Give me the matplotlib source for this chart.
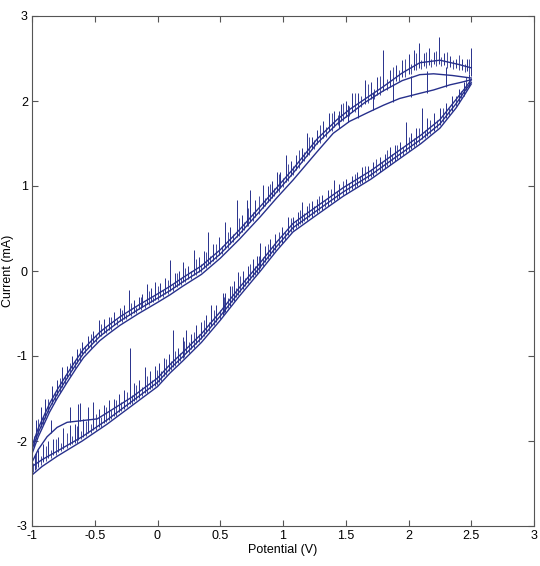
import matplotlib
matplotlib.use("Agg")
import matplotlib.pyplot as plt

plt.rcParams['font.family'] = ['Liberation Sans', 'DejaVu Sans']

# anodic sweep, outer / middle / inner traces (V, mA)
up_outer_v = [-1.00, -0.95, -0.86, -0.80, -0.72, -0.65, -0.59, -0.52, -0.46, -0.40, -0.30, -0.15, 0.00,
              0.10, 0.20, 0.35, 0.50, 0.65, 0.82, 0.95, 1.08, 1.27, 1.43, 1.53, 1.65, 1.80, 1.95, 2.09,
              2.25, 2.40, 2.50]
up_outer_i = [-2.06, -1.85, -1.56, -1.40, -1.21, -1.05, -0.92, -0.81, -0.72, -0.65, -0.54, -0.40, -0.27,
              -0.18, -0.08, 0.06, 0.25, 0.48, 0.76, 0.98, 1.20, 1.55, 1.78, 1.90, 2.02, 2.17, 2.33, 2.45,
              2.48, 2.43, 2.39]
up_mid_v = [-1.00, -0.95, -0.86, -0.80, -0.72, -0.65, -0.59, -0.52, -0.46, -0.40, -0.30, -0.15, 0.00,
            0.10, 0.20, 0.35, 0.50, 0.65, 0.82, 0.95, 1.08, 1.27, 1.43, 1.65, 1.80, 1.95, 2.09, 2.20,
            2.35, 2.50]
up_mid_i = [-2.10, -1.90, -1.61, -1.45, -1.26, -1.10, -0.97, -0.86, -0.77, -0.70, -0.59, -0.45, -0.32,
            -0.23, -0.13, 0.01, 0.20, 0.43, 0.71, 0.93, 1.15, 1.50, 1.73, 1.98, 2.12, 2.24, 2.31, 2.32,
            2.30, 2.27]
up_inner_v = [-1.00, -0.95, -0.86, -0.80, -0.72, -0.65, -0.59, -0.52, -0.46, -0.40, -0.30, -0.15, 0.00,
              0.10, 0.20, 0.35, 0.50, 0.65, 0.82, 0.95, 1.08, 1.27, 1.40, 1.53, 1.67, 1.80, 1.93, 2.09,
              2.20, 2.33, 2.42, 2.50]
up_inner_i = [-2.15, -1.95, -1.66, -1.50, -1.31, -1.15, -1.02, -0.91, -0.82, -0.75, -0.64, -0.50, -0.37,
              -0.28, -0.18, -0.04, 0.15, 0.37, 0.64, 0.86, 1.07, 1.40, 1.62, 1.76, 1.86, 1.95, 2.03, 2.09,
              2.13, 2.19, 2.22, 2.25]

# cathodic sweep: bottom edge, middle, and upper trace with the hook near -0.6 V
low_bot_v = [2.50, 2.45, 2.38, 2.25, 2.10, 1.88, 1.70, 1.48, 1.25, 1.08, 0.95, 0.82, 0.65, 0.50,
             0.35, 0.20, 0.10, 0.00, -0.20, -0.40, -0.60, -0.80, -0.92, -1.00]
low_bot_i = [2.20, 2.08, 1.92, 1.68, 1.50, 1.27, 1.08, 0.88, 0.64, 0.46, 0.24, 0.00, -0.30, -0.58,
             -0.84, -1.06, -1.20, -1.36, -1.58, -1.80, -2.00, -2.18, -2.30, -2.40]
low_mid_v = [2.50, 2.45, 2.38, 2.25, 2.10, 1.88, 1.70, 1.48, 1.25, 1.08, 0.95, 0.82, 0.65, 0.50,
             0.35, 0.20, 0.10, 0.00, -0.20, -0.40, -0.60, -0.80, -0.92, -1.00]
low_mid_i = [2.22, 2.12, 1.97, 1.73, 1.55, 1.32, 1.13, 0.93, 0.69, 0.51, 0.29, 0.05, -0.25, -0.53,
             -0.79, -1.01, -1.15, -1.31, -1.53, -1.75, -1.95, -2.12, -2.22, -2.30]
low_top_v = [2.50, 2.45, 2.38, 2.25, 2.10, 1.88, 1.70, 1.48, 1.25, 1.08, 0.95, 0.82, 0.65, 0.50,
             0.35, 0.20, 0.10, 0.00, -0.20, -0.35, -0.48, -0.60, -0.72, -0.80, -0.88, -0.95, -1.00]
low_top_i = [2.25, 2.15, 2.02, 1.78, 1.60, 1.37, 1.18, 0.98, 0.74, 0.56, 0.34, 0.10, -0.20, -0.48,
             -0.74, -0.96, -1.10, -1.26, -1.48, -1.62, -1.74, -1.76, -1.78, -1.84, -1.95, -2.10, -2.25]

# large noise spikes: position, foot, tip
spk_up_v = [-0.97, -0.93, -0.90, -0.84, -0.80, -0.76, -0.72, -0.68, -0.64, -0.60, -0.55, -0.51, -0.47,
            -0.43, -0.39, -0.35, -0.30, -0.27, -0.23, -0.19, -0.15, -0.12, -0.08, -0.05, -0.02, 0.02,
            0.06, 0.10, 0.14, 0.17, 0.20, 0.24, 0.29, 0.33, 0.37, 0.40, 0.44, 0.49, 0.54, 0.58, 0.63,
            0.67, 0.71, 0.74, 0.78, 0.84, 0.88, 0.91, 0.95, 0.98, 1.02, 1.06, 1.10, 1.15, 1.19, 1.23,
            1.27, 1.32, 1.37, 1.41, 1.46, 1.50, 1.55, 1.60, 1.65, 1.70, 1.75, 1.80, 1.85, 1.90, 1.95,
            2.00, 2.04, 2.08, 2.12, 2.16, 2.20, 2.24, 2.28, 2.33, 2.38, 2.43, 2.47, 2.50,
            1.60, 1.72, 1.88, 2.02, 2.15, 2.30, 1.45, 1.52]
spk_up_lo = [-1.98, -1.83, -1.73, -1.56, -1.46, -1.36, -1.26, -1.17, -1.08, -0.99, -0.91, -0.84, -0.77,
             -0.73, -0.69, -0.64, -0.59, -0.56, -0.52, -0.49, -0.45, -0.42, -0.39, -0.36, -0.34, -0.30,
             -0.27, -0.23, -0.19, -0.16, -0.13, -0.09, -0.05, -0.01, 0.03, 0.07, 0.12, 0.19, 0.26, 0.32,
             0.40, 0.46, 0.53, 0.58, 0.64, 0.74, 0.81, 0.86, 0.93, 0.98, 1.05, 1.12, 1.19, 1.28, 1.35,
             1.43, 1.50, 1.57, 1.65, 1.70, 1.77, 1.81, 1.87, 1.92, 1.97, 2.02, 2.07, 2.12, 2.17, 2.23,
             2.28, 2.32, 2.36, 2.39, 2.41, 2.42, 2.43, 2.43, 2.42, 2.40, 2.39, 2.37, 2.35, 2.30,
             1.80, 1.89, 1.99, 2.05, 2.10, 2.16, 1.68, 1.75]
spk_up_hi = [-1.75, -1.60, -1.50, -1.35, -1.28, -1.13, -1.12, -1.00, -0.92, -0.84, -0.76, -0.70, -0.58,
             -0.56, -0.54, -0.48, -0.44, -0.40, -0.22, -0.34, -0.30, -0.27, -0.15, -0.20, -0.13, -0.14,
             -0.08, 0.13, -0.02, 0.00, 0.11, 0.06, 0.25, 0.16, 0.24, 0.46, 0.32, 0.40, 0.58, 0.52,
             0.84, 0.66, 0.84, 0.95, 0.84, 1.01, 1.00, 1.06, 1.17, 1.16, 1.36, 1.30, 1.36, 1.45, 1.62,
             1.58, 1.66, 1.76, 1.86, 1.88, 1.97, 2.00, 2.10, 2.10, 2.25, 2.22, 2.28, 2.60, 2.36, 2.42,
             2.48, 2.55, 2.60, 2.68, 2.56, 2.62, 2.58, 2.75, 2.56, 2.53, 2.50, 2.49, 2.50, 2.62,
             2.05, 2.10, 2.20, 2.30, 2.35, 2.40, 1.88, 1.95]

spk_low_v = [-0.98, -0.95, -0.91, -0.87, -0.83, -0.79, -0.75, -0.70, -0.66, -0.63, -0.59, -0.55, -0.51,
             -0.47, -0.43, -0.39, -0.35, -0.31, -0.27, -0.22, -0.19, -0.15, -0.10, -0.06, -0.02, 0.01,
             0.05, 0.09, 0.125, 0.16, 0.20, 0.23, 0.27, 0.31, 0.35, 0.39, 0.43, 0.47, 0.52, 0.54, 0.58,
             0.61, 0.64, 0.68, 0.72, 0.76, 0.79, 0.82, 0.86, 0.90, 0.94, 0.99, 1.04, 1.08, 1.12, 1.15,
             1.19, 1.23, 1.27, 1.31, 1.36, 1.41, 1.45, 1.50, 1.55, 1.59, 1.63, 1.68, 1.72, 1.77, 1.81,
             1.85, 1.89, 1.93, 1.98, 2.02, 2.06, 2.11, 2.15, 2.20, 2.25, 2.30, 2.35, 2.40, 2.44, 2.48,
             -0.70, -0.62, -0.55, -0.85]
spk_low_lo = [-2.34, -2.30, -2.25, -2.20, -2.16, -2.13, -2.09, -2.05, -2.02, -1.99, -1.95, -1.91, -1.87,
              -1.83, -1.79, -1.75, -1.70, -1.66, -1.62, -1.56, -1.53, -1.49, -1.43, -1.39, -1.35, -1.31,
              -1.24, -1.18, -1.13, -1.08, -1.02, -0.97, -0.92, -0.86, -0.80, -0.73, -0.65, -0.60, -0.52,
              -0.48, -0.41, -0.35, -0.28, -0.21, -0.14, -0.07, -0.02, 0.04, 0.11, 0.18, 0.25, 0.33, 0.42,
              0.48, 0.53, 0.56, 0.60, 0.64, 0.68, 0.72, 0.77, 0.82, 0.86, 0.91, 0.96, 1.00, 1.03, 1.08,
              1.12, 1.17, 1.21, 1.25, 1.29, 1.34, 1.40, 1.44, 1.48, 1.55, 1.59, 1.65, 1.72, 1.80, 1.88,
              1.98, 2.06, 2.16,
              -1.78, -1.77, -1.76, -1.90]
spk_low_hi = [-2.15, -2.10, -2.04, -2.00, -1.98, -1.95, -1.85, -1.81, -1.80, -1.56, -1.74, -1.70, -1.54,
              -1.62, -1.58, -1.52, -1.50, -1.45, -1.40, -0.90, -1.32, -1.28, -1.13, -1.18, -1.12, -1.08,
              -1.02, -0.98, -0.69, -0.90, -0.78, -0.69, -0.74, -0.64, -0.60, -0.52, -0.40, -0.40, -0.26,
              -0.26, -0.18, -0.12, -0.01, 0.00, 0.06, 0.14, 0.18, 0.33, 0.30, 0.38, 0.44, 0.52, 0.64,
              0.64, 0.70, 0.81, 0.76, 0.82, 0.85, 0.90, 0.95, 1.07, 1.02, 1.08, 1.12, 1.16, 1.22, 1.24,
              1.28, 1.34, 1.38, 1.46, 1.48, 1.52, 1.75, 1.62, 1.68, 1.92, 1.80, 1.86, 1.92, 1.98, 2.06,
              2.14, 2.22, 2.32,
              -1.60, -1.55, -1.60, -1.75]

# small background spikes filling the bands
fz_up_v = [-0.985, -0.95, -0.915, -0.87, -0.82, -0.78, -0.74, -0.70, -0.66, -0.62, -0.575, -0.53, -0.49,
           -0.45, -0.41, -0.37, -0.325, -0.285, -0.25, -0.21, -0.17, -0.135, -0.10, -0.065, -0.035, 0.00,
           0.04, 0.08, 0.12, 0.155, 0.185, 0.22, 0.265, 0.31, 0.35, 0.385, 0.42, 0.465, 0.515, 0.56,
           0.605, 0.65, 0.69, 0.725, 0.76, 0.81, 0.86, 0.895, 0.93, 0.965, 1.00, 1.04, 1.08, 1.125,
           1.17, 1.21, 1.25, 1.295, 1.345, 1.39, 1.435, 1.48, 1.525, 1.575, 1.625, 1.675, 1.725, 1.775,
           1.825, 1.875, 1.925, 1.975, 2.02, 2.06, 2.10, 2.14, 2.18, 2.22, 2.26, 2.305, 2.355, 2.405,
           2.45, 2.485]
fz_up_lo = [-2.07, -1.92, -1.81, -1.66, -1.53, -1.43, -1.33, -1.24, -1.14, -1.06, -0.97, -0.90, -0.83,
            -0.77, -0.73, -0.69, -0.64, -0.60, -0.57, -0.53, -0.49, -0.46, -0.43, -0.40, -0.37, -0.34,
            -0.30, -0.27, -0.23, -0.19, -0.16, -0.13, -0.09, -0.05, -0.01, 0.03, 0.08, 0.14, 0.20, 0.27,
            0.34, 0.41, 0.48, 0.53, 0.59, 0.67, 0.76, 0.82, 0.88, 0.93, 0.99, 1.06, 1.13, 1.21,
            1.29, 1.36, 1.43, 1.51, 1.58, 1.65, 1.72, 1.77, 1.82, 1.87, 1.93, 1.98, 2.02, 2.07,
            2.13, 2.18, 2.23, 2.28, 2.32, 2.36, 2.38, 2.39, 2.40, 2.41, 2.41, 2.39, 2.38, 2.36,
            2.34, 2.32]
fz_up_hi = [-1.94, -1.74, -1.70, -1.50, -1.44, -1.26, -1.22, -1.08, -1.05, -0.90, -0.88, -0.74, -0.75,
            -0.62, -0.66, -0.54, -0.56, -0.46, -0.50, -0.38, -0.42, -0.30, -0.36, -0.24, -0.30, -0.18,
            -0.22, -0.10, -0.15, -0.02, -0.08, 0.04, 0.00, 0.14, 0.08, 0.22, 0.18, 0.32, 0.30, 0.46,
            0.44, 0.62, 0.58, 0.74, 0.70, 0.88, 0.86, 1.02, 0.98, 1.14, 1.10, 1.26, 1.24, 1.42,
            1.40, 1.58, 1.54, 1.72, 1.70, 1.86, 1.84, 1.98, 1.94, 2.10, 2.06, 2.20, 2.14, 2.30,
            2.26, 2.40, 2.36, 2.50, 2.44, 2.56, 2.48, 2.58, 2.50, 2.59, 2.52, 2.58, 2.48, 2.54,
            2.44, 2.50]

fz_low_v = [-0.995, -0.965, -0.93, -0.89, -0.85, -0.81, -0.77, -0.725, -0.68, -0.645, -0.61, -0.57, -0.53,
            -0.49, -0.45, -0.41, -0.37, -0.33, -0.29, -0.245, -0.205, -0.17, -0.125, -0.08, -0.04, -0.005,
            0.03, 0.07, 0.105, 0.14, 0.18, 0.215, 0.25, 0.29, 0.33, 0.37, 0.41, 0.45, 0.495, 0.53,
            0.56, 0.595, 0.625, 0.66, 0.70, 0.74, 0.775, 0.805, 0.84, 0.88, 0.92, 0.965, 1.015, 1.06,
            1.10, 1.135, 1.17, 1.21, 1.25, 1.29, 1.335, 1.385, 1.43, 1.475, 1.525, 1.57, 1.61, 1.655,
            1.70, 1.745, 1.79, 1.83, 1.87, 1.91, 1.955, 2.00, 2.04, 2.085, 2.13, 2.175, 2.225, 2.275,
            2.325, 2.375, 2.42, 2.46]
fz_low_lo = [-2.36, -2.33, -2.28, -2.24, -2.20, -2.16, -2.12, -2.08, -2.04, -2.02, -1.98, -1.94, -1.90,
             -1.87, -1.83, -1.78, -1.74, -1.70, -1.65, -1.60, -1.56, -1.52, -1.47, -1.43, -1.38, -1.34,
             -1.29, -1.22, -1.16, -1.12, -1.06, -1.01, -0.96, -0.90, -0.84, -0.77, -0.71, -0.64, -0.56,
             -0.49, -0.43, -0.37, -0.31, -0.25, -0.18, -0.11, -0.05, 0.00, 0.06, 0.14, 0.21, 0.29,
             0.37, 0.46, 0.51, 0.55, 0.59, 0.63, 0.67, 0.71, 0.75, 0.80, 0.85, 0.89, 0.94, 0.98,
             1.02, 1.06, 1.11, 1.15, 1.19, 1.24, 1.28, 1.32, 1.36, 1.41, 1.46, 1.51, 1.56, 1.61,
             1.68, 1.75, 1.83, 1.94, 2.04, 2.13]
fz_low_hi = [-2.26, -2.14, -2.18, -2.06, -2.10, -1.98, -2.02, -1.90, -1.94, -1.82, -1.88, -1.76, -1.80,
             -1.68, -1.72, -1.60, -1.64, -1.52, -1.54, -1.42, -1.46, -1.34, -1.36, -1.24, -1.28, -1.16,
             -1.18, -1.04, -1.06, -0.94, -0.96, -0.82, -0.84, -0.72, -0.74, -0.58, -0.60, -0.46, -0.46,
             -0.30, -0.32, -0.18, -0.20, -0.06, -0.08, 0.08, 0.06, 0.18, 0.16, 0.32, 0.30, 0.46,
             0.46, 0.62, 0.60, 0.72, 0.68, 0.80, 0.76, 0.88, 0.84, 0.96, 0.94, 1.06, 1.04, 1.14,
             1.12, 1.24, 1.20, 1.32, 1.28, 1.42, 1.38, 1.48, 1.46, 1.58, 1.56, 1.68, 1.66, 1.78,
             1.78, 1.92, 1.92, 2.06, 2.12, 2.28]

col = "#27308c"

fig = plt.figure(figsize=(5.4, 5.66), dpi=100)
ax = fig.add_axes([32 / 540, 40 / 566, 502 / 540, 510 / 566])

for v, i in [(up_outer_v, up_outer_i), (up_mid_v, up_mid_i), (up_inner_v, up_inner_i),
             (low_bot_v, low_bot_i), (low_mid_v, low_mid_i), (low_top_v, low_top_i)]:
    ax.plot(v, i, color=col, lw=1.0)
ax.vlines(spk_up_v, spk_up_lo, spk_up_hi, color=col, lw=0.7)
ax.vlines(spk_low_v, spk_low_lo, spk_low_hi, color=col, lw=0.7)
ax.vlines(fz_up_v, fz_up_lo, fz_up_hi, color=col, lw=0.6)
ax.vlines(fz_low_v, fz_low_lo, fz_low_hi, color=col, lw=0.6)

ax.set_xlim(-1, 3)
ax.set_ylim(-3, 3)
ax.set_xticks([-1, -0.5, 0, 0.5, 1, 1.5, 2, 2.5, 3])
ax.set_xticklabels(["-1", "-0.5", "0", "0.5", "1", "1.5", "2", "2.5", "3"])
ax.set_yticks([-3, -2, -1, 0, 1, 2, 3])
ax.set_yticklabels(["-3", "-2", "-1", "0", "1", "2", "3"])
ax.tick_params(direction="in", top=True, right=True, length=4, width=0.8,
               labelsize=9, color="#555555", pad=3)
for s in ax.spines.values():
    s.set_color("#555555")
    s.set_linewidth(0.8)
ax.set_xlabel("Potential (V)", fontsize=9, labelpad=1)
ax.set_ylabel("Current (mA)", fontsize=9, labelpad=2)

fig.savefig("out.png", dpi=100)
